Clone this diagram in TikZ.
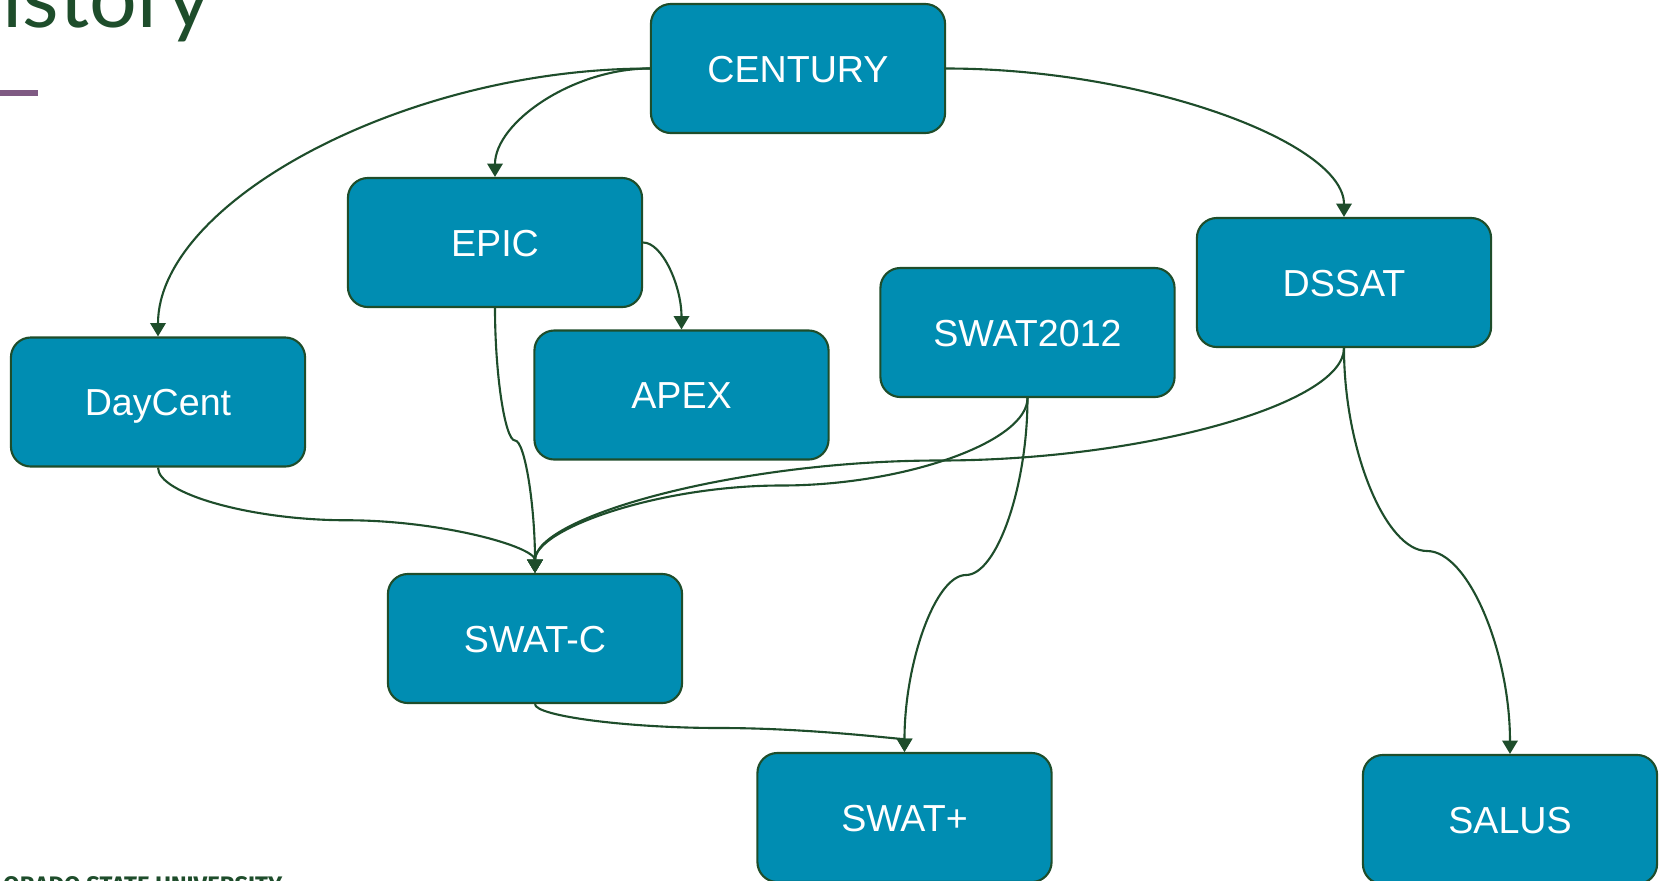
\documentclass[tikz,border=0pt]{standalone}
\usepackage{fontspec}
\setmainfont{Liberation Sans}
\newfontfamily\titlefont{Lato}
\newfontfamily\unifont{Fira Sans}
\usetikzlibrary{arrows.meta,calc}
\definecolor{boxfill}{RGB}{0,141,178}
\definecolor{csugreen}{RGB}{30,77,43}
\definecolor{csupurple}{RGB}{127,90,131}

\begin{document}
\begin{tikzpicture}[
        x=0.01cm, y=-0.01cm, % координаты в пикселях слайда
        model/.style={draw=csugreen, line width=0.6pt, fill=boxfill, rounded corners=2mm,
                minimum width=2.94cm, minimum height=1.29cm, text=white,
                text height=7.7pt, text depth=0pt,
                font=\fontsize{10.7}{13}\selectfont}, % Стиль узлов
        link/.style={draw=csugreen, line width=0.6pt, -{Triangle[length=3.8pt, width=4.4pt]}},
        vcurve/.style={to path={let \p1=(\tikztostart), \p2=(\tikztotarget) in
                    .. controls (\x1,{\y1+(\y2-\y1)/4}) and ({\x1+(\x2-\x1)/4},{(\y1+\y2)/2})
                    .. ({(\x1+\x2)/2},{(\y1+\y2)/2})
                    .. controls ({\x1+3*(\x2-\x1)/4},{(\y1+\y2)/2}) and (\x2,{\y1+3*(\y2-\y1)/4})
                    .. (\p2)}},
        hbend/.style={to path={let \p1=(\tikztostart), \p2=(\tikztotarget) in
                    .. controls ({(\x1+\x2)/2},\y1) and (\x2,{(\y1+\y2)/2}) .. (\p2)}},
    ]
    \useasboundingbox (0,0) rectangle (1662,881);
    \clip (0,0) rectangle (1662,881);

    % остатки слайда
    \node[anchor=base east, inner sep=0pt, text=csugreen, font=\titlefont\fontsize{24}{28}\selectfont] (title) at (212,27) {History};
    \fill[csupurple] (0,90) rectangle (38,96);
    \node[anchor=north east, inner sep=0pt, text=csugreen, font=\unifont\bfseries\fontsize{6.8}{8}\selectfont] (csu) at (283,876) {COLORADO STATE UNIVERSITY};

    \node[model] (century) at (798,68.5) {CENTURY};
    \node[model] (epic) at (495,242.5) {EPIC};
    \node[model] (daycent) at (158,402) {DayCent};
    \node[model] (apex) at (681.5,395) {APEX};
    \node[model] (swat12) at (1027.5,332.5) {SWAT2012};
    \node[model] (dssat) at (1344,282.5) {DSSAT};
    \node[model] (swatc) at (535,638.5) {SWAT-C};
    \node[model] (swatplus) at (904.5,817.5) {SWAT+};
    \node[model] (salus) at (1510,819.5) {SALUS};

    \draw[link] (century.west) to[hbend] (epic.north);
    \draw[link] (century.west) to[hbend] (daycent.north);
    \draw[link] (century.east) to[hbend] (dssat.north);
    \draw[link] (epic.east) to[hbend] (apex.north);

    \draw[link] (epic.south) to[vcurve] (swatc.north);
    \draw[link] (daycent.south) to[vcurve] (swatc.north);
    \draw[link] (swat12.south) to[vcurve] (swatc.north);
    \draw[link] (dssat.south) to[vcurve] (swatc.north);
    \draw[link] (swat12.south) to[vcurve] (swatplus.north);
    \draw[link] (swatc.south) to[vcurve] (swatplus.north);
    \draw[link] (dssat.south) to[vcurve] (salus.north);

\end{tikzpicture}
\end{document}
